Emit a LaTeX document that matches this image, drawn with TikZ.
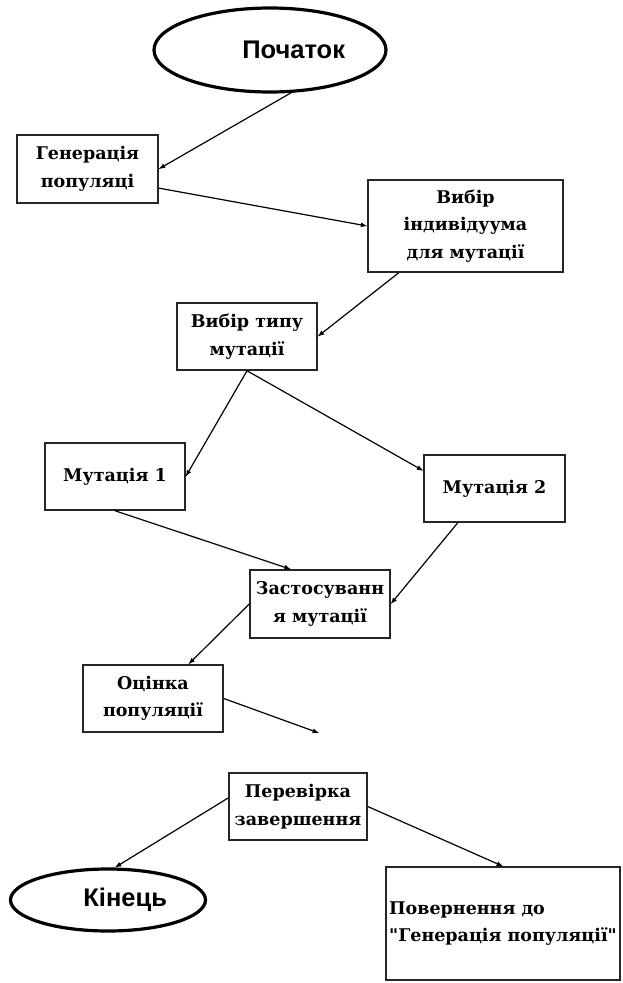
\documentclass[tikz,border=0pt]{standalone}
\usepackage{fontspec}
\setmainfont{DejaVu Serif}[Ligatures=TeXOff]
\newfontfamily\termfont{Liberation Sans}
\usetikzlibrary{shapes,arrows}

\begin{document}
\begin{tikzpicture}[x=1pt,y=-1pt,
          st/.style={draw=black!85,line width=1.5pt,rectangle,minimum width=140pt,minimum height=67pt,
            align=center,inner sep=2pt,font=\fontsize{17.5}{27.5}\selectfont\bfseries},
          term/.style={draw,ellipse,line width=3.2pt,align=right,inner sep=3pt,
            font=\termfont\fontsize{25.5}{28}\selectfont\bfseries},
          link/.style={-latex,line width=1.2pt}
            ]
            \useasboundingbox (0,0) rectangle (622,983);
            \node[term,text width=150pt,minimum width=232pt,minimum height=84pt] (start) at (270,50) {Початок};
            \node[st,minimum width=141pt,minimum height=68pt] (gen) at (87.5,169) {Генерація\\популяці};
            \node[st,minimum width=195pt,minimum height=92pt] (vyb) at (465.5,226) {Вибір\\індивідуума\\для мутації};
            \node[st] (typ) at (247,336.5) {Вибір типу\\мутації};
            \node[st] (mut1) at (115,476.5) {Мутація 1};
            \node[st,minimum width=141pt] (mut2) at (494.5,488.5) {Мутація 2};
            \node[st,minimum height=68pt] (zast) at (320,604) {Застосуванн\\я мутації};
            \node[st] (ocin) at (153,698.5) {Оцінка\\популяції};
            \coordinate (ocinend) at (319,733);
            \node[st,minimum width=138pt] (perev) at (298,806.5) {Перевірка\\завершення};
            \node[term,text width=118pt,minimum width=195pt,minimum height=62pt] (kin) at (108,900) {Кінець};
            \node[st,minimum width=234pt,minimum height=113pt,align=left,inner sep=1pt] (povern) at (503,923.5) {Повернення до\\"Генерація популяції"};
            \path (start.-64) edge[link] (gen.east)
            (gen.-15) edge[link] (vyb.west)
            (vyb.-145) edge[link] (typ.east)
            (typ.south) edge[link] (mut1.east)
            (typ.south) edge[link] (mut2.166)
            (mut1.south) edge[link] (zast.130)
            (mut2.-137) edge[link] (zast.east)
            (zast.west) edge[link] (ocin.44)
            (ocin.east) edge[link] (ocinend)
            (perev.173) edge[link] (kin.78)
            (perev.east) edge[link] (povern.north);
            \end{tikzpicture}
\end{document}
